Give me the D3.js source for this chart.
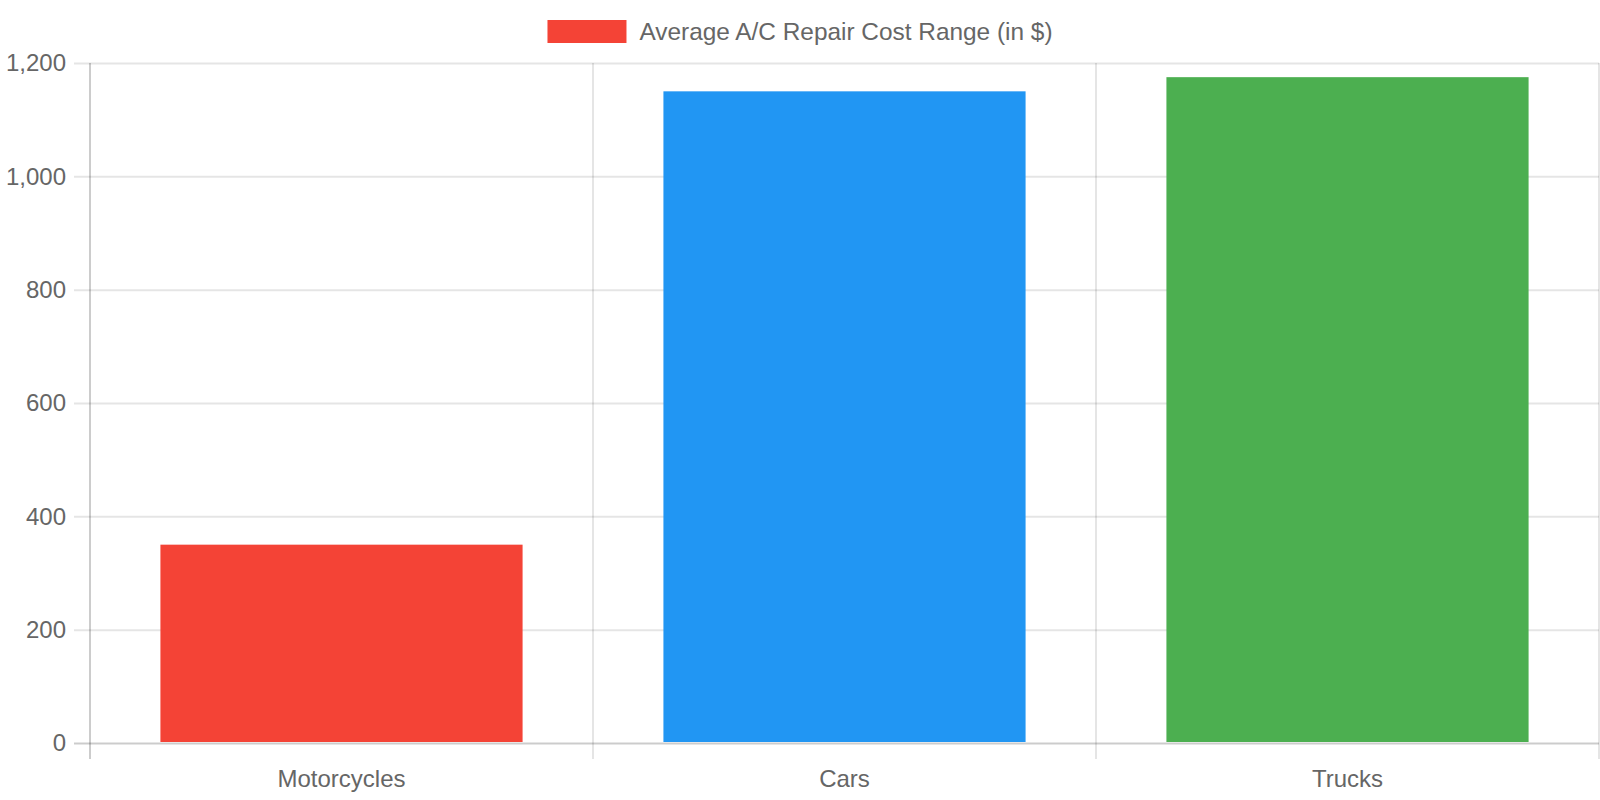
<!DOCTYPE html>
<html>
<head>
<meta charset="utf-8">
<style>
  html, body { margin: 0; padding: 0; background: #fff; }
  svg { display: block; font-family: "Liberation Sans", Arial, Helvetica, sans-serif; }
  .axis path { display: none; }
  .axis text { fill: #666; font-size: 24px; }
</style>
</head>
<body>
<div id="chart"></div>
<script src="https://cdn.jsdelivr.net/npm/d3@7"></script>
<script>
var categories = ["Motorcycles", "Cars", "Trucks"];
var costs = [350, 1150, 1175];
var barColors = ["#F44336", "#2196F3", "#4CAF50"];
var yTicks = [0, 200, 400, 600, 800, 1000, 1200];
var seriesLabel = "Average A/C Repair Cost Range (in $)";

var width = 1600, height = 800;
var plotLeft = 90, plotRight = 1599, plotTop = 63, plotBottom = 743;
var tickLen = 16;

var svg = d3.select("#chart").append("svg")
    .attr("width", width)
    .attr("height", height);

var x = d3.scaleBand().domain(categories).range([plotLeft, plotRight]).padding(0);
var y = d3.scaleLinear().domain([0, 1200]).range([plotBottom, plotTop]);

// horizontal grid + y labels
var yAxis = svg.append("g")
    .attr("class", "axis")
    .attr("transform", "translate(" + plotRight + ",0)")
    .call(d3.axisLeft(y)
      .tickValues(yTicks)
      .tickFormat(d3.format(","))
      .tickSize(plotRight - plotLeft + tickLen)
      .tickPadding(8));
yAxis.selectAll(".tick line")
    .attr("stroke", function(d) { return d === 0 ? "rgba(0,0,0,0.2)" : "rgba(0,0,0,0.1)"; })
    .attr("stroke-width", 2);

// vertical grid at category boundaries
var bounds = categories.map(function(c) { return x(c); }).concat([plotRight]);
svg.append("g").selectAll("line")
  .data(bounds)
  .join("line")
    .attr("x1", function(d) { return d; })
    .attr("x2", function(d) { return d; })
    .attr("y1", plotTop)
    .attr("y2", plotBottom + tickLen)
    .attr("stroke", function(d, i) { return i === 0 ? "rgba(0,0,0,0.2)" : "rgba(0,0,0,0.1)"; })
    .attr("stroke-width", 2);

// x labels
svg.append("g")
    .attr("class", "axis")
    .attr("transform", "translate(0," + plotBottom + ")")
    .call(d3.axisBottom(x).tickSize(0).tickPadding(27));

// bars
var bw = x.bandwidth() * 0.72;
svg.append("g").selectAll("rect")
  .data(costs)
  .join("rect")
    .attr("x", function(d, i) { return x(categories[i]) + (x.bandwidth() - bw) / 2; })
    .attr("width", bw)
    .attr("y", function(d) { return y(d); })
    .attr("height", function(d) { return y(0) - y(d) - 1; })
    .attr("fill", function(d, i) { return barColors[i]; });

// legend
var legend = svg.append("g");
var legText = legend.append("text")
    .attr("y", 40)
    .attr("fill", "#666")
    .style("font-size", "24.4px")
    .text(seriesLabel);
var tw = legText.node().getComputedTextLength();
var lx = (width - (92 + tw)) / 2;
legend.append("rect")
    .attr("x", lx).attr("y", 20)
    .attr("width", 79).attr("height", 23)
    .attr("fill", barColors[0]);
legText.attr("x", lx + 92);
</script>
</body>
</html>
